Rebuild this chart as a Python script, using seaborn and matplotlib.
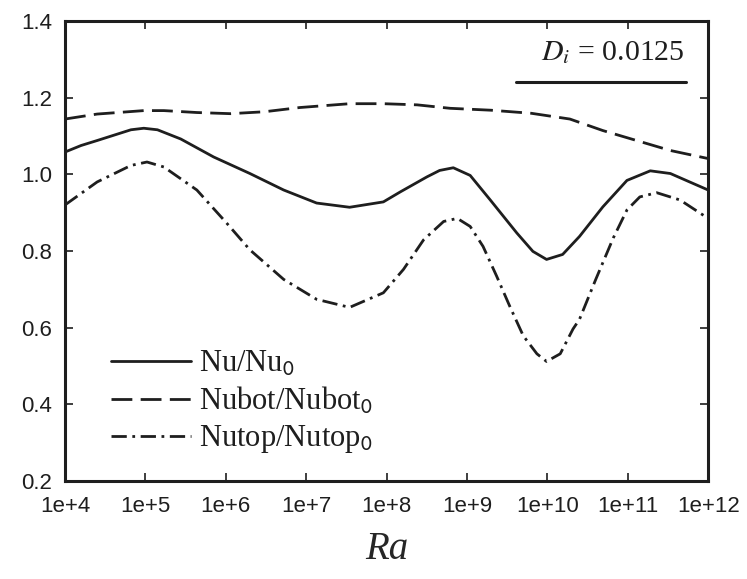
import numpy as np
import pandas as pd
import matplotlib
matplotlib.use("Agg")
import matplotlib.pyplot as plt
import seaborn as sns
from matplotlib.lines import Line2D

# values, x is log10(Ra)
nu_x = [4.0, 4.2, 4.40, 4.82, 4.98, 5.15, 5.44, 5.85, 6.30, 6.72, 7.13, 7.54, 7.96, 8.17,
        8.50, 8.66, 8.83, 9.04, 9.29, 9.62, 9.82, 9.99, 10.19, 10.40, 10.69, 10.99, 11.28,
        11.53, 11.77, 12.0]
nu_y = [1.058, 1.075, 1.088, 1.116, 1.120, 1.116, 1.092, 1.045, 1.002, 0.959, 0.925, 0.914,
        0.928, 0.954, 0.993, 1.010, 1.017, 0.997, 0.933, 0.847, 0.799, 0.778, 0.791, 0.838,
        0.915, 0.984, 1.009, 1.002, 0.980, 0.959]

bot_x = [4.0, 4.40, 4.98, 5.23, 5.64, 6.06, 6.48, 6.92, 7.54, 7.96, 8.38, 8.79, 9.3, 9.8,
         10.28, 10.69, 11.11, 11.53, 12.0]
bot_y = [1.144, 1.157, 1.166, 1.166, 1.161, 1.158, 1.163, 1.174, 1.184, 1.184, 1.181, 1.172,
         1.167, 1.159, 1.144, 1.114, 1.088, 1.062, 1.041]

top_x = [4.0, 4.40, 4.82, 5.02, 5.23, 5.64, 6.01, 6.30, 6.72, 7.13, 7.54, 7.96, 8.21, 8.46,
         8.71, 8.88, 9.04, 9.20, 9.37, 9.53, 9.70, 9.87, 9.99, 10.16, 10.32, 10.40, 10.60,
         10.82, 10.99, 11.15, 11.36, 11.65, 12.0]
top_y = [0.920, 0.980, 1.023, 1.032, 1.019, 0.959, 0.873, 0.803, 0.726, 0.674, 0.653, 0.691,
         0.752, 0.829, 0.877, 0.885, 0.864, 0.812, 0.734, 0.657, 0.579, 0.532, 0.512, 0.532,
         0.597, 0.622, 0.725, 0.834, 0.907, 0.941, 0.952, 0.933, 0.885]

labels = [r"Nu/Nu$_{\mathsf{0}}$", r"Nubot/Nubot$_{\mathsf{0}}$", r"Nutop/Nutop$_{\mathsf{0}}$"]

x_ticks = [4, 5, 6, 7, 8, 9, 10, 11, 12]
x_labels = ["1e+4", "1e+5", "1e+6", "1e+7", "1e+8", "1e+9", "1e+10", "1e+11", "1e+12"]
y_ticks = [0.2, 0.4, 0.6, 0.8, 1.0, 1.2, 1.4]

df = pd.concat([
    pd.DataFrame({"logra": nu_x, "val": nu_y, "serie": labels[0]}),
    pd.DataFrame({"logra": bot_x, "val": bot_y, "serie": labels[1]}),
    pd.DataFrame({"logra": top_x, "val": top_y, "serie": labels[2]}),
])

sns.set_style("ticks")
plt.rcParams["font.family"] = ["Liberation Sans", "DejaVu Sans"]
plt.rcParams["mathtext.fontset"] = "stix"

fig = plt.figure(figsize=(7.47, 5.79), dpi=100)
ax = fig.add_axes([0.087, 0.169, 0.861, 0.795])

col = "#1e1e1e"
estilos = {labels[0]: "", labels[1]: (7.5, 3), labels[2]: (5.5, 2, 1, 2)}
sns.lineplot(data=df, x="logra", y="val", style="serie", dashes=estilos, color=col,
             lw=2.0, sort=False, estimator=None, ax=ax)

ax.set_xlim(4, 12)
ax.set_ylim(0.2, 1.4)
ax.set_xticks(x_ticks)
ax.set_xticklabels(x_labels)
ax.set_yticks(y_ticks)
ax.set_yticklabels([f"{v:.1f}" for v in y_ticks])
ax.tick_params(direction="in", length=6, width=1.2, colors=col, labelsize=16,
               top=True, right=True)
ax.tick_params(axis="x", pad=11)
ax.tick_params(axis="y", pad=9)
for s in ax.spines.values():
    s.set_linewidth(2.2)
    s.set_color(col)

ax.set_xlabel("Ra", fontsize=28, fontstyle="italic", family="Liberation Serif", labelpad=10)
ax.set_ylabel("")

leg = ax.legend(loc="lower left", bbox_to_anchor=(0.058, 0.036), borderaxespad=0,
                frameon=False, handlelength=2.6, handletextpad=0.26, labelspacing=0.22,
                borderpad=0.3, prop={"family": "Liberation Serif", "size": 22})
for t in leg.get_texts():
    t.set_color(col)

ax.text(0.964, 0.915, "$D_i$ = 0.0125", transform=ax.transAxes, ha="right", va="baseline",
        fontsize=21.5, family="Liberation Serif", color=col)
ax.add_line(Line2D([0.701, 0.966], [0.867, 0.867], transform=ax.transAxes, color=col, lw=2.2))

fig.savefig("out.png", dpi=100, facecolor="white")
